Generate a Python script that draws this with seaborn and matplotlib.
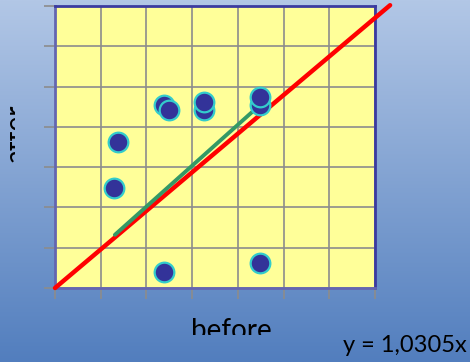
import numpy as np
import pandas as pd
import matplotlib
matplotlib.use("Agg")
import matplotlib.pyplot as plt
import seaborn as sns
from matplotlib.transforms import Bbox, TransformedBbox

# data
before = [1.38, 1.29, 2.39, 2.49, 3.26, 3.26, 4.49, 4.49, 2.39, 4.49]
after = [3.62, 2.48, 4.54, 4.42, 4.42, 4.62, 4.54, 4.74, 0.40, 0.62]
trend_x = [1.31, 4.53]
trend_y = [1.32, 4.59]
ref_x = [0.0, 7.33]
ref_y = [0.0, 7.02]
ticks = [0, 1, 2, 3, 4, 5, 6, 7]

sns.set_theme(style="white")
plt.rcParams['font.family'] = ['Lato', 'DejaVu Sans']

W, H = 470, 362
fig = plt.figure(figsize=(W / 100, H / 100), dpi=100)

# gradient background
bg = fig.add_axes([0, 0, 1, 1], zorder=-10)
top = np.array([178, 199, 230]) / 255
bot = np.array([82, 126, 190]) / 255
t = np.linspace(0, 1, 256)[:, None]
grad = top[None, :] * (1 - t) + bot[None, :] * t
bg.imshow(grad[:, None, :], aspect='auto', extent=[0, 1, 0, 1])
bg.set_axis_off()

ax = fig.add_axes([55 / W, 1 - 288 / H, 320 / W, 282 / H])
ax.set_facecolor('#FFFF99')

df = pd.DataFrame({'before': before, 'after': after})
sns.lineplot(x=ref_x, y=ref_y, ax=ax, color='#FF0000', linewidth=3.2,
             clip_on=False, zorder=3)
sns.lineplot(x=trend_x, y=trend_y, ax=ax, color='#339966', linewidth=2.8,
             zorder=4)
sns.scatterplot(data=df, x='before', y='after', ax=ax, s=200,
                color='#333399', edgecolor='#33CCCC', linewidth=1.6,
                zorder=5, clip_on=False)

ax.set_xlim(0, 7)
ax.set_ylim(0, 7)
ax.set_xticks(ticks)
ax.set_yticks(ticks)
ax.set_xticklabels([])
ax.set_yticklabels([])
ax.set_xlabel('')
ax.set_ylabel('')
ax.grid(True, color='#8C8C8C', linewidth=1.2)
ax.set_axisbelow(True)
ax.tick_params(axis='both', which='both', direction='out', length=8,
               width=1.2, color='#8C8C8C', left=True, bottom=True)
for side in ['top', 'right']:
    ax.spines[side].set_color('#3B3BA0')
    ax.spines[side].set_linewidth(2)
for side in ['left', 'bottom']:
    ax.spines[side].set_color('#6466B0')
    ax.spines[side].set_linewidth(2)

# x label "before" (clipped at the bottom like the reference)
tb = fig.text(231 / W, 1 - 339 / H, 'before', ha='center', va='baseline',
              fontsize=20, color='black')
tb.set_clip_box(TransformedBbox(Bbox([[0, 1 - 335 / H], [1, 1]]), fig.transFigure))
tb.set_clip_on(True)

# y label "after" (mostly cut off)
ta = fig.text(25 / W, 1 - 134 / H, 'after', ha='center', va='baseline',
              rotation=90, rotation_mode='anchor', fontsize=20, color='black')
ta.set_clip_box(TransformedBbox(Bbox([[10 / W, 0], [15 / W, 1]]), fig.transFigure))
ta.set_clip_on(True)

fig.text(467 / W, 1 - 352 / H, 'y = 1,0305x', ha='right', va='baseline',
         fontsize=17, color='black')

fig.savefig('out.png', dpi=100)
